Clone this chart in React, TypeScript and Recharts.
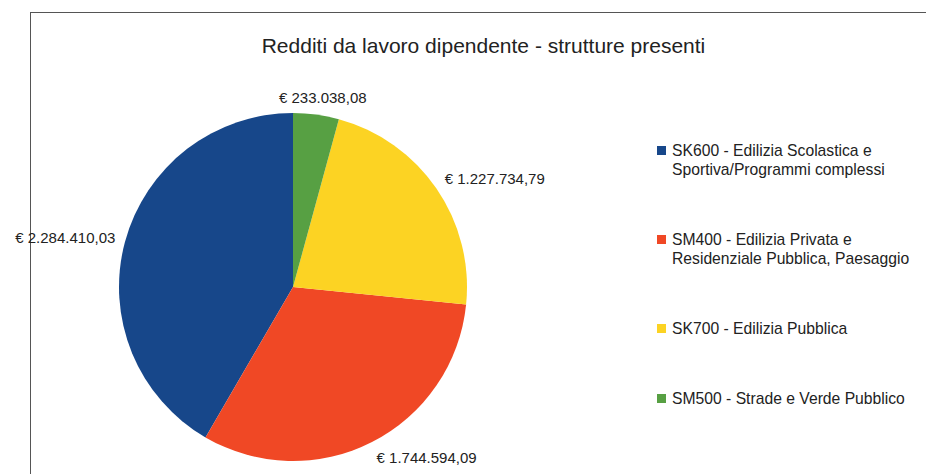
import React from "react";
import { PieChart, Pie, Cell, Legend } from "recharts";

const categories = [
  "SK600 - Edilizia Scolastica e Sportiva/Programmi complessi",
  "SM400 - Edilizia Privata e Residenziale Pubblica, Paesaggio",
  "SK700 - Edilizia Pubblica",
  "SM500 - Strade e Verde Pubblico",
];
const legendLines = [
  ["SK600 - Edilizia Scolastica e", "Sportiva/Programmi complessi"],
  ["SM400 - Edilizia Privata e", "Residenziale Pubblica, Paesaggio"],
  ["SK700 - Edilizia Pubblica"],
  ["SM500 - Strade e Verde Pubblico"],
];
const values = [2284410.03, 1744594.09, 1227734.79, 233038.08];
const colors = ["#17478a", "#f04825", "#fcd323", "#57a043"];
const title = "Redditi da lavoro dipendente - strutture presenti";

const data = categories.map((name, i) => ({ name, value: values[i] }));

const FONT = "'Liberation Sans', Arial, Helvetica, sans-serif";

function fmtEuro(v: number): string {
  const fixed = v.toFixed(2);
  const [intPart, dec] = fixed.split(".");
  const withDots = intPart.replace(/\B(?=(\d{3})+(?!\d))/g, ".");
  return "€ " + withDots + "," + dec;
}

const RAD = Math.PI / 180;

const renderLabel = (props: any) => {
  const { cx, cy, midAngle, outerRadius, value } = props;
  const c = Math.cos(-midAngle * RAD);
  const s = Math.sin(-midAngle * RAD);
  const r = outerRadius + 10;
  const px = cx + r * c;
  const py = cy + r * s;
  let anchor: "start" | "end" | "middle" = "middle";
  let x = px;
  if (c > 0.3) anchor = "start";
  else if (c < -0.3) anchor = "end";
  else x = px + c * 40;
  const y = py + s * 7;
  return (
    <text
      x={x}
      y={y}
      textAnchor={anchor}
      dominantBaseline="central"
      fill="#222"
      fontSize={15}
      fontFamily={FONT}
    >
      {fmtEuro(value)}
    </text>
  );
};

const renderLegend = () => (
  <div style={{ fontFamily: FONT, fontSize: 15.7, color: "#222" }}>
    {legendLines.map((lines, i) => (
      <div
        key={i}
        style={{
          position: "relative",
          paddingLeft: 15,
          lineHeight: "19px",
          marginBottom: i < legendLines.length - 1 ? 51 : 0,
        }}
      >
        <span
          style={{
            position: "absolute",
            left: 0,
            top: 5,
            width: 9,
            height: 9,
            background: colors[i],
          }}
        />
        {lines.map((l, j) => (
          <div key={j} style={{ whiteSpace: "nowrap" }}>
            {l}
          </div>
        ))}
      </div>
    ))}
  </div>
);

export default function App() {
  return (
    <div
      style={{
        position: "absolute",
        left: 0,
        top: 0,
        width: 926,
        height: 474,
        overflow: "hidden",
        background: "#fff",
      }}
    >
      <div
        style={{
          position: "absolute",
          left: 30,
          top: 12,
          width: 940,
          height: 500,
          borderLeft: "1.5px solid #555",
          borderTop: "1.5px solid #555",
        }}
      />
      <div
        style={{
          position: "absolute",
          left: 0,
          width: 967,
          top: 33,
          textAlign: "center",
          fontFamily: FONT,
          fontSize: 21,
          color: "#222",
          lineHeight: "26px",
        }}
      >
        {title}
      </div>
      <div style={{ position: "absolute", left: 0, top: 0 }}>
        <PieChart width={926} height={474}>
          <Pie
            data={data}
            dataKey="value"
            nameKey="name"
            cx={288}
            cy={282}
            outerRadius={174}
            startAngle={90}
            endAngle={450}
            stroke="none"
            label={renderLabel}
            labelLine={false}
            isAnimationActive={false}
          >
            {data.map((d, i) => (
              <Cell key={d.name} fill={colors[i]} />
            ))}
          </Pie>
          <Legend
            content={renderLegend}
            wrapperStyle={{ position: "absolute", left: 657, top: 141, width: 268 }}
          />
        </PieChart>
      </div>
    </div>
  );
}
